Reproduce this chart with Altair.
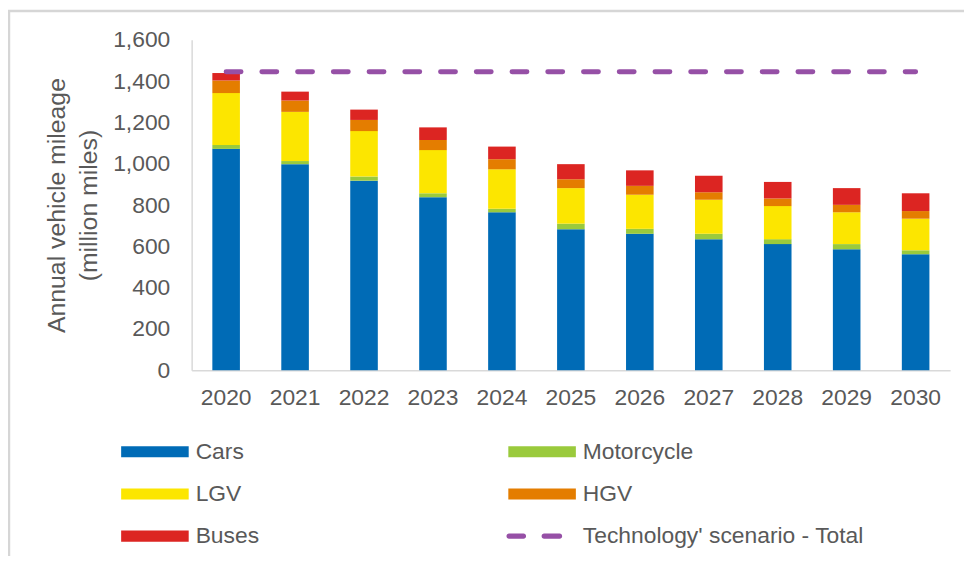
import altair as alt
import pandas as pd

years = ["2020", "2021", "2022", "2023", "2024", "2025", "2026", "2027", "2028", "2029", "2030"]
cars = [1072, 998, 918, 838, 765, 683, 661, 635, 611, 586, 562]
motorcycle = [19, 15, 20, 19, 17, 27, 24, 26, 24, 25, 19]
lgv = [251, 238, 220, 209, 191, 172, 165, 165, 160, 154, 153]
hgv = [61, 55, 54, 49, 49, 43, 43, 36, 37, 36, 37]
buses = [36, 43, 50, 61, 61, 73, 75, 80, 80, 81, 86]
tech_total = [1445, 1445, 1445, 1445, 1445, 1445, 1445, 1445, 1445, 1445, 1445]

series_names = ["Cars", "Motorcycle", "LGV", "HGV", "Buses"]
series_colors = ["#006BB6", "#9ACA3C", "#FCE600", "#E47D00", "#DC2522"]
line_name = "Technology' scenario - Total"
line_color = "#9650A6"
series_values = [cars, motorcycle, lgv, hgv, buses]

rows = []
for k, (name, vals) in enumerate(zip(series_names, series_values)):
    for y, v in zip(years, vals):
        rows.append({"year": y, "type": name, "value": v, "order": k})
bars_df = pd.DataFrame(rows)
line_df = pd.DataFrame({"year": years, "value": tech_total})
legend_df = pd.DataFrame({"type": series_names + [line_name]})

# legend fills column by column: order entries so rows read Cars/Motorcycle, LGV/HGV, Buses/Technology
domain = ["Cars", "LGV", "Buses", "Motorcycle", "HGV", line_name]
color_of = dict(zip(series_names, series_colors))
color_of[line_name] = line_color
colors = [color_of[d] for d in domain]

# legend symbol paths (unit = half of sqrt(symbol size))
rect_path = "M-1.62,-0.267H1.62V0.267H-1.62Z"
dash_path = ("M-1.587,-0.121H-0.89A0.121,0.121 0 0 1 -0.89,0.121H-1.587A0.121,0.121 0 0 1 -1.587,-0.121Z"
             "M0.097,-0.121H0.842A0.121,0.121 0 0 1 0.842,0.121H0.097A0.121,0.121 0 0 1 0.097,-0.121Z")
shapes = [dash_path if d == line_name else rect_path for d in domain]

color_scale = alt.Scale(domain=domain, range=colors)
shape_scale = alt.Scale(domain=domain, range=shapes)

FONT = "Liberation Sans"
GREY = "#595959"
AXIS_GREY = "#D9D9D9"

legend = alt.Legend(
    title=None, orient="none", legendX=-58, legendY=394, columns=2,
    columnPadding=249, rowPadding=9.5, labelOffset=20, labelLimit=400,
    labelFont=FONT, labelFontSize=23, labelColor=GREY,
    symbolStrokeWidth=0, symbolOpacity=1, symbolSize=1764,
)

x_enc = alt.X("year:N", sort=years,
              scale=alt.Scale(paddingInner=0.6, paddingOuter=0.3),
              axis=alt.Axis(title=None, labelAngle=0, ticks=False, labelPadding=16,
                            domainColor=AXIS_GREY, domainWidth=1.5,
                            labelFont=FONT, labelFontSize=23, labelColor=GREY))

y_axis = alt.Axis(values=[0, 200, 400, 600, 800, 1000, 1200, 1400, 1600], format=",.0f",
                  grid=False, ticks=False, labelPadding=22,
                  domainColor=AXIS_GREY, domainWidth=1.5,
                  labelFont=FONT, labelFontSize=23, labelColor=GREY,
                  title=["Annual vehicle mileage", "(million miles)"],
                  titleFont=FONT, titleFontSize=25, titleFontWeight="normal",
                  titleColor=GREY, titleLineHeight=32, titleX=-128,
                  titleBaseline="alphabetic")

bars = alt.Chart(bars_df).mark_bar().encode(
    x=x_enc,
    y=alt.Y("value:Q", stack="zero",
            scale=alt.Scale(domain=[0, 1600], nice=False), axis=y_axis),
    color=alt.Color("type:N", scale=color_scale, legend=legend),
    order=alt.Order("order:Q"),
)

line = alt.Chart(line_df).mark_line(
    color=line_color, strokeWidth=5, strokeDash=[15, 21], strokeCap="round"
).encode(
    x=alt.X("year:N", sort=years),
    y=alt.Y("value:Q", axis=y_axis),
)

legend_layer = alt.Chart(legend_df).mark_point(filled=True, opacity=0, size=1764).encode(
    color=alt.Color("type:N", scale=color_scale, legend=legend),
    shape=alt.Shape("type:N", scale=shape_scale, legend=legend),
)

frame_df = pd.DataFrame({"a": [0]})
frame_left = alt.Chart(frame_df).mark_rule(color="#D6D6D6", strokeWidth=2.5).encode(
    x=alt.value(-184), y=alt.value(-29), y2=alt.value(530))
frame_top = alt.Chart(frame_df).mark_rule(color="#D6D6D6", strokeWidth=2.5).encode(
    x=alt.value(-185), x2=alt.value(790), y=alt.value(-29))

chart = alt.layer(frame_left, frame_top, bars, line, legend_layer).properties(
    width=764, height=333,
    autosize=alt.AutoSizeParams(type="none"),
    padding={"left": 185, "top": 30, "right": 14, "bottom": 185},
).configure_view(stroke=None)

chart.save("out.html", embed_options={"renderer": "svg", "actions": False})
